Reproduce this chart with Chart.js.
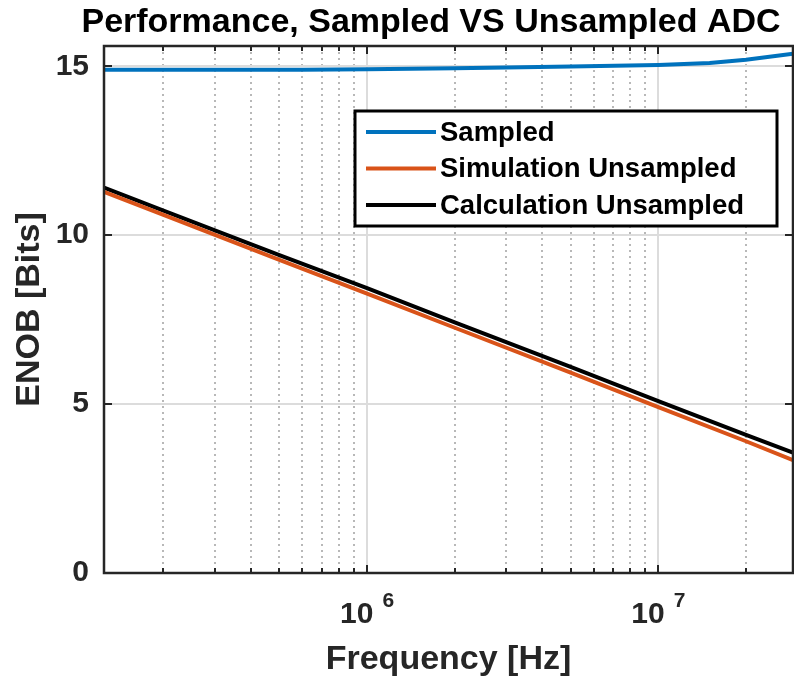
<!DOCTYPE html>
<html lang="en">
<head>
  <meta charset="UTF-8">
  <title>ENOB</title>
  <style>
    html, body { margin: 0; padding: 0; background: #fff; }
    #wrap { width: 794px; height: 680px; }
  </style>
</head>
<body>
  <div id="wrap"><canvas id="myChart" width="794" height="680"></canvas></div>

  <script src="https://cdn.jsdelivr.net/npm/chart.js"></script>
  <script>
    const chartTitle = 'Performance, Sampled VS Unsampled ADC';
    const xLabel = 'Frequency [Hz]';
    const yLabel = 'ENOB [Bits]';
    const seriesNames = ['Sampled', 'Simulation Unsampled', 'Calculation Unsampled'];

    const freqSampled = [1.25e5, 3e5, 6e5, 1e6, 2e6, 3e6, 5e6, 1e7, 1.5e7, 2e7, 2.9e7];
    const enobSampled = [14.9, 14.9, 14.9, 14.91, 14.94, 14.96, 14.99, 15.04, 15.1, 15.19, 15.37];

    const freqUnsampled = [1.25e5, 2e5, 5e5, 1e6, 2e6, 5e6, 1e7, 2e7, 2.9e7];
    const enobSimulation = [11.28, 10.6, 9.27, 8.27, 7.26, 5.93, 4.91, 3.9, 3.34];
    const enobCalculation = [11.41, 10.73, 9.41, 8.43, 7.42, 6.1, 5.09, 4.09, 3.56];

    const xMin = 1.25e5, xMax = 2.9e7;
    const yMin = 0, yMax = 15.6;
    const xTicks = [2e5, 3e5, 4e5, 5e5, 6e5, 7e5, 8e5, 9e5, 1e6,
                    2e6, 3e6, 4e6, 5e6, 6e6, 7e6, 8e6, 9e6, 1e7, 2e7];
    const xMajor = [1e6, 1e7];
    const yTicks = [0, 5, 10, 15];

    const colors = ['#0072BD', '#D95319', '#000000'];
    const axisColor = '#262626';
    const fontFam = '"Liberation Sans", Arial, Helvetica, sans-serif';

    const isMajor = v => xMajor.some(m => Math.abs(m - v) / m < 1e-6);
    const pts = (xs, ys) => xs.map((x, i) => ({ x, y: ys[i] }));

    // frame, inward ticks, x tick labels with exponent, title and legend
    const decor = {
      id: 'decor',
      afterDraw(chart) {
        const { ctx, chartArea: a, scales } = chart;
        const xs = scales.x, ys = scales.y;
        ctx.save();

        // ticks inside the box
        ctx.strokeStyle = axisColor;
        ctx.lineWidth = 2;
        ctx.beginPath();
        xTicks.forEach(v => {
          const px = Math.round(xs.getPixelForValue(v));
          const len = isMajor(v) ? 8 : 5;
          ctx.moveTo(px, a.bottom); ctx.lineTo(px, a.bottom - len);
          ctx.moveTo(px, a.top); ctx.lineTo(px, a.top + len);
        });
        yTicks.forEach(v => {
          const py = Math.round(ys.getPixelForValue(v));
          ctx.moveTo(a.left, py); ctx.lineTo(a.left + 8, py);
          ctx.moveTo(a.right, py); ctx.lineTo(a.right - 8, py);
        });
        ctx.stroke();

        // box
        ctx.lineWidth = 2.5;
        ctx.strokeRect(a.left, a.top, a.right - a.left, a.bottom - a.top);

        // x tick labels 10^n
        ctx.fillStyle = axisColor;
        ctx.textBaseline = 'alphabetic';
        xMajor.forEach(v => {
          const px = xs.getPixelForValue(v);
          const exp = String(Math.round(Math.log10(v)));
          ctx.font = 'bold 30px ' + fontFam;
          const wBase = ctx.measureText('10').width;
          ctx.font = 'bold 21px ' + fontFam;
          const wExp = ctx.measureText(exp).width;
          const gap = 9;
          const x0 = px - (wBase + gap + wExp) / 2;
          ctx.font = 'bold 30px ' + fontFam;
          ctx.textAlign = 'left';
          ctx.fillText('10', x0, a.bottom + 50);
          ctx.font = 'bold 21px ' + fontFam;
          ctx.fillText(exp, x0 + wBase + gap, a.bottom + 34);
        });

        // title
        ctx.fillStyle = '#000';
        ctx.font = 'bold 34px ' + fontFam;
        ctx.textAlign = 'center';
        ctx.textBaseline = 'alphabetic';
        ctx.fillText(chartTitle, 431, 32);

        // legend
        const lx = 355, ly = 111, lw = 422, lh = 115;
        ctx.fillStyle = '#fff';
        ctx.fillRect(lx, ly, lw, lh);
        ctx.strokeStyle = '#000';
        ctx.lineWidth = 3;
        ctx.strokeRect(lx, ly, lw, lh);
        ctx.font = 'bold 27.5px ' + fontFam;
        ctx.textAlign = 'left';
        ctx.textBaseline = 'middle';
        chart.data.datasets.forEach((ds, i) => {
          const cy = 132 + i * 36.5;
          ctx.strokeStyle = ds.borderColor;
          ctx.lineWidth = 4;
          ctx.beginPath();
          ctx.moveTo(366, cy); ctx.lineTo(436, cy);
          ctx.stroke();
          ctx.fillStyle = '#000';
          ctx.fillText(ds.label, 440, cy + 1);
        });
        ctx.restore();
      }
    };

    const ctx = document.getElementById('myChart');

    const chart = new Chart(ctx, {
      type: 'line',
      data: {
        datasets: [
          { label: seriesNames[0], data: pts(freqSampled, enobSampled), borderColor: colors[0] },
          { label: seriesNames[1], data: pts(freqUnsampled, enobSimulation), borderColor: colors[1] },
          { label: seriesNames[2], data: pts(freqUnsampled, enobCalculation), borderColor: colors[2] }
        ]
      },
      options: {
        responsive: false,
        animation: false,
        events: [],
        layout: { padding: { top: 46, right: 1, left: 0, bottom: 0 } },
        elements: {
          line: { borderWidth: 4, tension: 0, fill: false },
          point: { radius: 0 }
        },
        plugins: {
          legend: { display: false },
          title: { display: false },
          tooltip: { enabled: false }
        },
        scales: {
          x: {
            type: 'logarithmic',
            min: xMin,
            max: xMax,
            afterBuildTicks: s => { s.ticks = xTicks.map(v => ({ value: v })); },
            afterFit: s => { s.height = 107; },
            ticks: { display: false },
            grid: {
              drawTicks: false,
              lineWidth: 2,
              color: c => (c.tick && isMajor(c.tick.value)) ? '#dcdcdc' : '#b8b8b8'
            },
            border: {
              display: false,
              dash: c => (c.tick && !isMajor(c.tick.value)) ? [2, 4] : []
            },
            title: {
              display: true,
              text: xLabel,
              color: axisColor,
              font: { family: fontFam, size: 34, weight: 'bold' },
              padding: { top: 4, bottom: 0 }
            }
          },
          y: {
            min: yMin,
            max: yMax,
            afterBuildTicks: s => { s.ticks = yTicks.map(v => ({ value: v })); },
            afterFit: s => { s.width = 104; },
            ticks: {
              color: axisColor,
              padding: 15,
              font: { family: fontFam, size: 30, weight: 'bold' }
            },
            grid: { drawTicks: false, lineWidth: 2, color: '#dcdcdc' },
            border: { display: false },
            title: {
              display: true,
              text: yLabel,
              color: axisColor,
              font: { family: fontFam, size: 34, weight: 'bold' },
              padding: { top: 9, bottom: 0 }
            }
          }
        }
      },
      plugins: [decor]
    });
  </script>
</body>
</html>
